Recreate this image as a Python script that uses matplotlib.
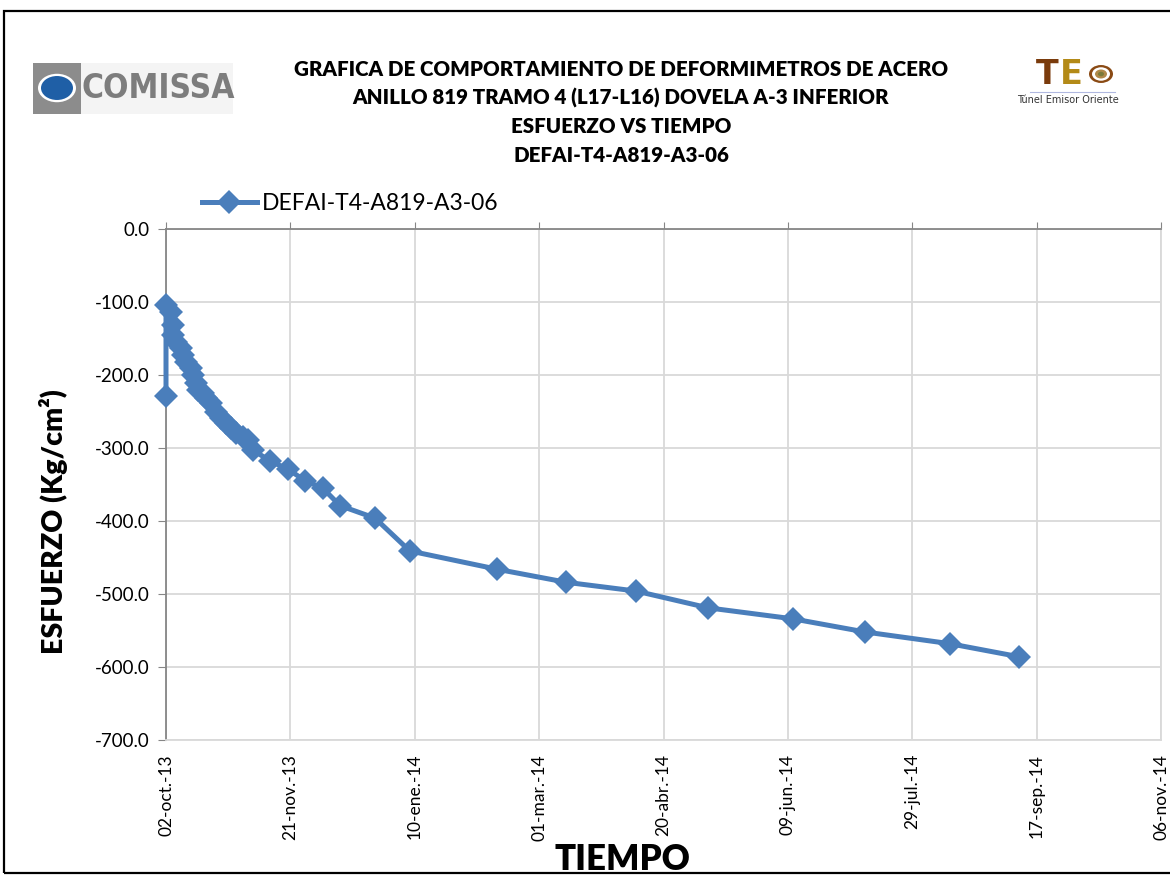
import matplotlib
matplotlib.use("Agg")
import matplotlib.pyplot as plt
from matplotlib.patches import Rectangle, Circle
import datetime as dt

# ---------------- data ----------------
start_date = "2013-10-02"
day_offsets = [0, 0, 2, 3, 3, 4, 6, 7, 8, 10, 11, 12, 13, 15, 16, 18, 20, 22, 24,
               26, 28, 31, 33, 35, 42, 49, 56, 63, 70, 84, 98, 133, 161, 189,
               218, 252, 281, 315, 343]
esfuerzo = [-229, -104, -114, -131, -145, -155, -163, -173, -182, -190, -200,
            -211, -221, -225, -232, -238, -251, -259, -266, -273, -279, -285,
            -289, -303, -318, -329, -345, -355, -379, -396, -441, -466, -484,
            -496, -519, -534, -552, -568, -586]
series_name = "DEFAI-T4-A819-A3-06"
x_tick_labels = ["02-oct.-13", "21-nov.-13", "10-ene.-14", "01-mar.-14",
                 "20-abr.-14", "09-jun.-14", "29-jul.-14", "17-sep.-14",
                 "06-nov.-14"]
y_ticks = [0, -100, -200, -300, -400, -500, -600, -700]
title_lines = ["GRAFICA DE COMPORTAMIENTO DE DEFORMIMETROS DE ACERO",
               "ANILLO 819 TRAMO 4 (L17-L16) DOVELA A-3 INFERIOR",
               "ESFUERZO VS TIEMPO",
               "DEFAI-T4-A819-A3-06"]

# --------------- figure ---------------
W, H = 1170, 876
fig = plt.figure(figsize=(W / 100, H / 100), dpi=100)
fig.patch.set_facecolor("white")

def fx(px):
    return px / W

def fy(py):
    return 1 - py / H

ax = fig.add_axes([fx(166), fy(740), fx(1161) - fx(166), fy(229) - fy(740)])

t0 = dt.datetime.strptime(start_date, "%Y-%m-%d")
dates = [t0 + dt.timedelta(days=d) for d in day_offsets]
blue = "#4a7ebb"
ax.plot(dates, esfuerzo, color=blue, lw=3.6, marker="D", markersize=12.5,
        markeredgewidth=0, solid_joinstyle="round", zorder=3, label=series_name,
        clip_on=False)

tick_dates = [t0 + dt.timedelta(days=50 * i) for i in range(len(x_tick_labels))]
ax.set_xlim(tick_dates[0], tick_dates[-1])
ax.set_ylim(-700, 0)
ax.set_xticks(tick_dates)
ax.set_xticklabels(x_tick_labels, rotation=90, fontsize=12.5, family="Lato")
ax.set_yticks(y_ticks)
ax.set_yticklabels([f"{v:.1f}" for v in y_ticks], fontsize=13.5, family="Lato")

ax.grid(True, color="#d9d9d9", lw=1.3, zorder=0)
ax.set_axisbelow(True)
for s in ["right", "bottom"]:
    ax.spines[s].set_color("#d9d9d9")
    ax.spines[s].set_linewidth(1.3)
for s in ["left", "top"]:
    ax.spines[s].set_color("#868686")
    ax.spines[s].set_linewidth(1.3)

ax.tick_params(axis="x", top=True, bottom=False, labeltop=False, labelbottom=True,
               direction="out", length=5, color="#868686", pad=5)
ax.tick_params(axis="y", left=True, direction="out", length=6, color="#868686", pad=6)

ax.set_ylabel("ESFUERZO (Kg/cm²)", fontsize=20.5, fontweight="heavy",
              family="Lato")
axw = fx(1161) - fx(166)
ax.yaxis.set_label_coords((fx(68) - fx(166)) / axw, (fy(522) - fy(740)) / (fy(229) - fy(740)))

fig.text(fx(622), fy(870), "TIEMPO", fontsize=25, fontweight="heavy", family="Lato",
         ha="center", va="baseline")

leg = fig.legend(loc="center left", bbox_to_anchor=(fx(181), fy(204)), frameon=False,
                 handlelength=2.4, handletextpad=0.25,
                 prop={"family": "Lato", "size": 16.5})

# title
for i, line in enumerate(title_lines):
    fig.text(fx(621), fy(69 + 28.7 * i), line, fontsize=14.8, fontweight="heavy",
             family="Lato", ha="center", va="center")

# COMISSA logo
fig.patches.append(Rectangle((fx(33), fy(114)), fx(200), fy(63) - fy(114),
                             transform=fig.transFigure, facecolor="#f4f4f4",
                             edgecolor="none", zorder=1))
fig.patches.append(Rectangle((fx(33), fy(114)), fx(48), fy(63) - fy(114),
                             transform=fig.transFigure, facecolor="#8c8c8c",
                             edgecolor="none", zorder=2))
fig.patches.append(Circle((fx(57), fy(88)), fx(19), transform=fig.transFigure,
                          facecolor="white", edgecolor="none", zorder=3))
fig.patches.append(Circle((fx(57), fy(88)), fx(16), transform=fig.transFigure,
                          facecolor="#1f5fa6", edgecolor="none", zorder=4))
fig.text(fx(158), fy(89), "COMISSA", fontsize=24, fontweight="heavy",
         family="DejaVu Sans", color="#7d7d7d", ha="center", va="center",
         fontstretch="condensed", zorder=5)

# TEO logo
fig.text(fx(1036), fy(74), "T", fontsize=24, fontweight="bold", family="DejaVu Sans",
         color="#7a3b0c", ha="left", va="center")
fig.text(fx(1060), fy(74), "E", fontsize=24, fontweight="bold", family="DejaVu Sans",
         color="#b38a17", ha="left", va="center")
for r, c in [(12, "#8a4a14"), (9, "white"), (6, "#b0894a"), (3, "#7a7a3a")]:
    fig.patches.append(Circle((fx(1101), fy(74)), r / W, transform=fig.transFigure,
                              facecolor=c, edgecolor="none"))
fig.add_artist(plt.Line2D([fx(1030), fx(1115)], [fy(92), fy(92)], color="#b0b8e0", lw=0.8))
fig.text(fx(1068), fy(100), "Túnel Emisor Oriente", fontsize=7, family="DejaVu Sans",
         color="#333333", ha="center", va="center")

# outer frame
fig.patches.append(Rectangle((fx(4), fy(873)), fx(1175) - fx(4), fy(11) - fy(873),
                             transform=fig.transFigure, facecolor="none",
                             edgecolor="black", lw=1.6, zorder=10))

fig.savefig("out.png", dpi=100)
